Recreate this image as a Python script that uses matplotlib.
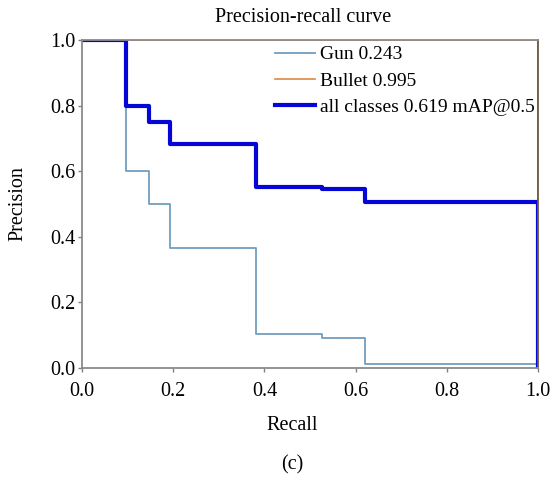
import matplotlib
matplotlib.use("Agg")
import matplotlib.pyplot as plt

# Data
recall = [0.0, 0.097, 0.146, 0.194, 0.382, 0.526, 0.621, 1.0]
gun_precision = [1.0, 0.6, 0.5, 0.365, 0.104, 0.090, 0.011, 0.0]
all_precision = [1.0, 0.8, 0.75, 0.683, 0.552, 0.545, 0.505, 0.0]
bullet_recall = [0.0, 1.0, 1.0]
bullet_precision = [1.0, 1.0, 0.0]
labels = ["Gun 0.243", "Bullet 0.995", "all classes 0.619 mAP@0.5"]
ticks = [0.0, 0.2, 0.4, 0.6, 0.8, 1.0]

plt.rcParams['font.family'] = ['Liberation Serif', 'DejaVu Serif']
FS = 14.5

fig = plt.figure(figsize=(5.52, 4.79), dpi=100)
ax = fig.add_axes([82/552, 1-368/479, (538-82)/552, (368-40)/479])

ax.plot(recall, gun_precision, drawstyle='steps-post', color='#6f9ebf', lw=1.3, label=labels[0], zorder=2)
ax.plot(bullet_recall, bullet_precision, color='#d98a45', lw=1.2, label=labels[1], zorder=2)
ax.plot(recall, all_precision, drawstyle='steps-post', color='#0505d8', lw=3, label=labels[2], zorder=3)

ax.set_xlim(0, 1)
ax.set_ylim(0, 1)
ax.set_xticks(ticks)
ax.set_yticks(ticks)
ax.set_xticklabels([f"{t:.1f}" for t in ticks], fontsize=FS)
ax.set_yticklabels([f"{t:.1f}" for t in ticks], fontsize=FS)
ax.tick_params(length=3, width=1, color='#808080')
ax.tick_params(axis='x', pad=7)
ax.tick_params(axis='y', pad=2)
for s in ax.spines.values():
    s.set_color('#8a8a8a')
    s.set_linewidth(1.3)
    s.set_zorder(4)
ax.spines['right'].set_color('#6b5a40')

fig.text(303/552, 1-18/479, "Precision-recall curve", ha='center', va='center', fontsize=FS)
fig.text(18/552, 1-204/479, "Precision", rotation=90, ha='center', va='center', fontsize=FS)
fig.text(292/552, 1-425/479, "Recall", ha='center', va='center', fontsize=FS)
fig.text(292/552, 1-465/479, "(c)", ha='center', va='center', fontsize=FS)

leg = ax.legend(loc='upper right', frameon=False, fontsize=14, handlelength=2.05,
                handletextpad=0.25, labelspacing=0.45, borderaxespad=0.0,
                borderpad=0.3, bbox_to_anchor=(1.005, 1.0))

fig.savefig("out.png", dpi=100)
